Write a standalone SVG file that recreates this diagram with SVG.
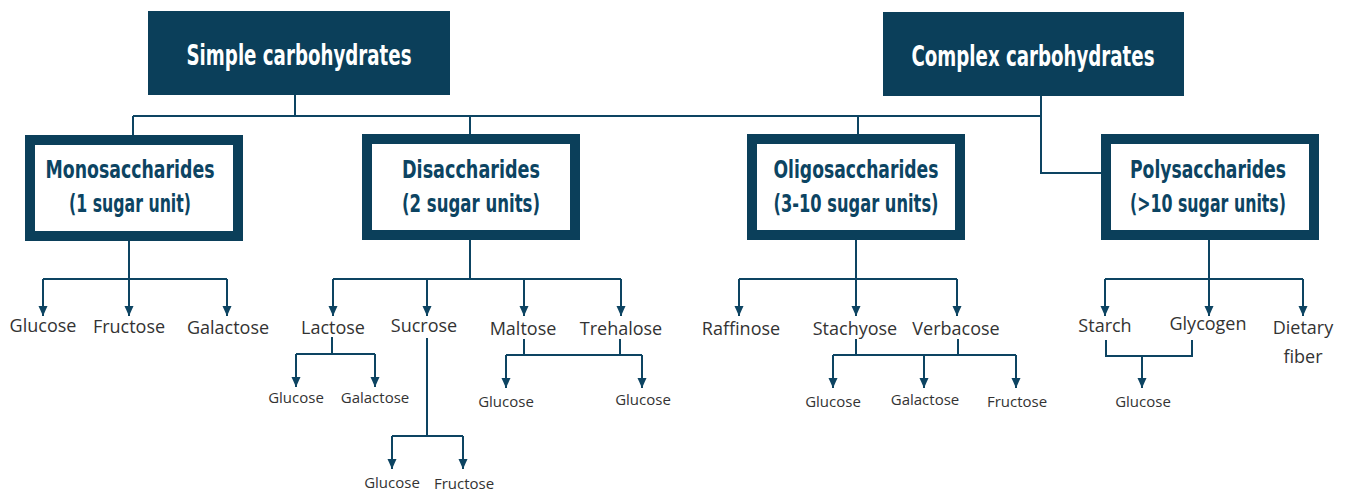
<svg xmlns="http://www.w3.org/2000/svg" width="1349" height="493" viewBox="0 0 1349 493">
<defs>
<marker id="arr" viewBox="0 -5 10 10" refX="10" refY="0" markerWidth="10" markerHeight="10" markerUnits="userSpaceOnUse" orient="auto">
<path d="M0,-4.5 L10,0 L0,4.5 z" fill="#0d4462"/>
</marker>
<style>
.top{fill:#0b3f5a}
.cat{fill:#fff;stroke:#0b3f5a;stroke-width:10}
.tt{font-family:"Liberation Sans Narrow","DejaVu Sans Condensed","Roboto",sans-serif;font-weight:bold;font-size:28px;fill:#fff;text-anchor:middle}
.ct{font-family:"Liberation Sans Narrow","DejaVu Sans Condensed","Roboto",sans-serif;font-weight:bold;font-size:24px;fill:#0c4462;text-anchor:middle}
.lb{font-family:"Open Sans","Liberation Sans",sans-serif;font-size:18px;fill:#333;text-anchor:middle}
.sm{font-family:"Open Sans","Liberation Sans",sans-serif;font-size:15px;fill:#333;text-anchor:middle}
.ln{fill:none;stroke:#0d4462;stroke-width:2}
.ar{fill:none;stroke:#0d4462;stroke-width:2;marker-end:url(#arr)}
</style>
</defs>
<rect width="1349" height="493" fill="#fff"/>
<g id="connectors">
<path class="ln" d="M295,95 V116 M133,116 H1041 M133,116 V135 M470,116 V134 M858,116 V134 M1041,96 V173 H1101"/>
<path class="ln" d="M129,241 V279 M43,279 H227"/>
<path class="ar" d="M43,279 V316"/>
<path class="ar" d="M129,279 V316"/>
<path class="ar" d="M227,279 V316"/>
<path class="ln" d="M470,240 V279 M333,279 H621"/>
<path class="ar" d="M333,279 V316"/>
<path class="ar" d="M427,279 V316"/>
<path class="ar" d="M524,279 V316"/>
<path class="ar" d="M621,279 V316"/>
<path class="ln" d="M332,337 V354 M296,354 H375"/>
<path class="ar" d="M296,354 V387"/>
<path class="ar" d="M375,354 V387"/>
<path class="ln" d="M427,338 V436 M392,436 H463"/>
<path class="ar" d="M392,436 V469"/>
<path class="ar" d="M463,436 V469"/>
<path class="ln" d="M524,339 V355 M620,339 V355 M506,355 H642"/>
<path class="ar" d="M506,355 V388"/>
<path class="ar" d="M642,355 V388"/>
<path class="ln" d="M856,240 V279 M739,279 H957"/>
<path class="ar" d="M739,279 V316"/>
<path class="ar" d="M856,279 V316"/>
<path class="ar" d="M957,279 V316"/>
<path class="ln" d="M856,339 V355 M958,339 V355 M833,355 H1016"/>
<path class="ar" d="M833,355 V388"/>
<path class="ar" d="M924,355 V388"/>
<path class="ar" d="M1016,355 V388"/>
<path class="ln" d="M1209,240 V279 M1105,279 H1303"/>
<path class="ar" d="M1105,279 V316"/>
<path class="ar" d="M1209,279 V316"/>
<path class="ar" d="M1303,279 V316"/>
<path class="ln" d="M1106,340 V356 H1192 V340"/>
<path class="ar" d="M1142,356 V388"/>
</g>
<g id="simple">
<rect class="top" x="148" y="11" width="302" height="84"/>
<text class="tt" x="299" y="65" textLength="225" lengthAdjust="spacingAndGlyphs">Simple carbohydrates</text>
</g>
<g id="complex">
<rect class="top" x="883" y="12" width="301" height="84"/>
<text class="tt" x="1033" y="66" textLength="243" lengthAdjust="spacingAndGlyphs">Complex carbohydrates</text>
</g>
<g id="mono">
<rect class="cat" x="30" y="140" width="208" height="96"/>
<text class="ct" x="130" y="178" textLength="169" lengthAdjust="spacingAndGlyphs">Monosaccharides</text>
<text class="ct" x="130" y="212" textLength="122" lengthAdjust="spacingAndGlyphs">(1 sugar unit)</text>
</g>
<g id="di">
<rect class="cat" x="367" y="139" width="208" height="96"/>
<text class="ct" x="471" y="178" textLength="138" lengthAdjust="spacingAndGlyphs">Disaccharides</text>
<text class="ct" x="471" y="212" textLength="138" lengthAdjust="spacingAndGlyphs">(2 sugar units)</text>
</g>
<g id="oligo">
<rect class="cat" x="752" y="139" width="208" height="96"/>
<text class="ct" x="856" y="178" textLength="165" lengthAdjust="spacingAndGlyphs">Oligosaccharides</text>
<text class="ct" x="856" y="212" textLength="165" lengthAdjust="spacingAndGlyphs">(3-10 sugar units)</text>
</g>
<g id="poly">
<rect class="cat" x="1106" y="139" width="208" height="96"/>
<text class="ct" x="1208" y="178" textLength="156" lengthAdjust="spacingAndGlyphs">Polysaccharides</text>
<text class="ct" x="1208" y="212" textLength="156" lengthAdjust="spacingAndGlyphs">(&gt;10 sugar units)</text>
</g>
<g id="mono-items">
<text class="lb" x="43" y="332">Glucose</text>
<text class="lb" x="129" y="333">Fructose</text>
<text class="lb" x="228" y="334">Galactose</text>
</g>
<g id="di-items">
<text class="lb" x="333" y="334">Lactose</text>
<text class="lb" x="424" y="332">Sucrose</text>
<text class="lb" x="523" y="335">Maltose</text>
<text class="lb" x="621" y="335">Trehalose</text>
<text class="sm" x="296" y="403">Glucose</text>
<text class="sm" x="375" y="403">Galactose</text>
<text class="sm" x="392" y="488">Glucose</text>
<text class="sm" x="464" y="489">Fructose</text>
<text class="sm" x="506" y="407">Glucose</text>
<text class="sm" x="643" y="405">Glucose</text>
</g>
<g id="oligo-items">
<text class="lb" x="741" y="335">Raffinose</text>
<text class="lb" x="855" y="335">Stachyose</text>
<text class="lb" x="956" y="335">Verbacose</text>
<text class="sm" x="833" y="407">Glucose</text>
<text class="sm" x="925" y="405">Galactose</text>
<text class="sm" x="1017" y="407">Fructose</text>
</g>
<g id="poly-items">
<text class="lb" x="1105" y="332">Starch</text>
<text class="lb" x="1208" y="330">Glycogen</text>
<text class="lb" x="1303" y="334">Dietary</text>
<text class="lb" x="1303" y="363">fiber</text>
<text class="sm" x="1143" y="407">Glucose</text>
</g>
</svg>
